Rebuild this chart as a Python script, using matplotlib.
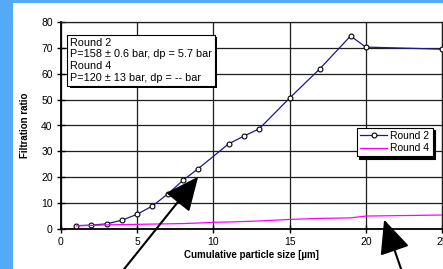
import matplotlib
matplotlib.use("Agg")
import matplotlib.pyplot as plt
from matplotlib.patches import Rectangle
import matplotlib.patheffects as pe

plt.rcParams['font.family'] = ['Liberation Sans', 'DejaVu Sans']

# Data
x_round2 = [1, 2, 3, 4, 5, 6, 7, 8, 9, 11, 12, 13, 15, 17, 19, 20, 25]
y_round2 = [1.3, 1.5, 2.0, 3.4, 5.7, 8.9, 13.5, 18.8, 23.3, 32.9, 35.9, 38.7, 50.6, 62.0, 74.6, 70.3, 69.5]

x_round4 = [1, 2, 3, 4, 5, 6, 7, 8, 9, 10, 11, 12, 13, 15, 17, 19, 20, 25]
y_round4 = [1.2, 1.4, 1.6, 1.7, 1.8, 1.9, 2.0, 2.1, 2.3, 2.6, 2.7, 2.9, 3.1, 3.7, 4.1, 4.3, 5.0, 5.4]

x_ticks = [0, 5, 10, 15, 20, 25]
y_ticks = [0, 10, 20, 30, 40, 50, 60, 70, 80]
series_labels = ["Round 2", "Round 4"]
info_text = "Round 2\nP=158 \u00b1 0.6 bar, dp = 5.7 bar\nRound 4\nP=120 \u00b1 13 bar, dp = -- bar"

W, H = 443, 269
fig = plt.figure(figsize=(W / 100, H / 100), dpi=100)
fig.patch.set_facecolor('white')

# page background strips
fig.add_artist(Rectangle((0, 0), 13 / W, 1, transform=fig.transFigure, facecolor='#55AAF5', edgecolor='none', zorder=0))
fig.add_artist(Rectangle((0, 1 - 3 / H), 1, 3 / H, transform=fig.transFigure, facecolor='#55AAF5', edgecolor='none', zorder=0))

ax = fig.add_axes([61 / W, 40 / H, 381 / W, 207 / H])
ax.set_xlim(0, 25)
ax.set_ylim(0, 80)
ax.set_xticks(x_ticks)
ax.set_yticks(y_ticks)
ax.grid(True, color='#1e1e1e', linewidth=0.9)
ax.set_axisbelow(True)
for s in ax.spines.values():
    s.set_color('#1e1e1e')
    s.set_linewidth(0.9)
ax.spines['left'].set_color('black')
ax.spines['bottom'].set_color('black')
ax.spines['left'].set_linewidth(1.3)
ax.spines['bottom'].set_linewidth(1.3)
ax.tick_params(direction='inout', length=6, width=1, labelsize=7.5, pad=3)

ax.plot(x_round2, y_round2, color='#1a1a8c', linewidth=0.9, marker='o', markersize=3.5,
        markerfacecolor='white', markeredgecolor='black', markeredgewidth=0.8,
        label=series_labels[0], zorder=3)
ax.plot(x_round4, y_round4, color='#FF00FF', linewidth=0.9, label=series_labels[1], zorder=3)

ax.set_xlabel("Cumulative particle size [\u00b5m]", fontsize=7, fontweight='bold', labelpad=2)
ax.set_ylabel("Filtration ratio", fontsize=7, fontweight='bold', labelpad=8)

leg = ax.legend(loc='upper left', bbox_to_anchor=(0.777, 0.49), fontsize=7.5, frameon=True,
                fancybox=False, edgecolor='black', framealpha=1, borderpad=0.3,
                handlelength=2.6, handletextpad=0.3, labelspacing=0.25, borderaxespad=0,
                shadow={'color': 'black', 'alpha': 1, 'ox': 1.5, 'oy': -1.5})
leg.get_frame().set_linewidth(0.8)

t = ax.text(0.024, 0.925, info_text, transform=ax.transAxes, fontsize=7.8, va='top', ha='left',
            linespacing=1.22, zorder=5,
            bbox=dict(boxstyle='square,pad=0.25', facecolor='white', edgecolor='black', linewidth=0.8))
t.get_bbox_patch().set_path_effects([pe.SimplePatchShadow(offset=(1.5, -1.5), shadow_rgbFace='black', alpha=1), pe.Normal()])

# arrows
arrow_kw = dict(arrowstyle='-|>,head_length=2.1,head_width=0.95', color='black', linewidth=1.5)
ax.annotate('', xy=(9.0, 20.2), xycoords='data', xytext=(122 / W, -0.01), textcoords='figure fraction',
            arrowprops=dict(**arrow_kw, shrinkA=0, shrinkB=0), annotation_clip=False)
ax.annotate('', xy=(21.2, 3.6), xycoords='data', xytext=(402 / W, -0.01), textcoords='figure fraction',
            arrowprops=dict(**arrow_kw, shrinkA=0, shrinkB=0), annotation_clip=False)

fig.savefig('out.png', dpi=100)
